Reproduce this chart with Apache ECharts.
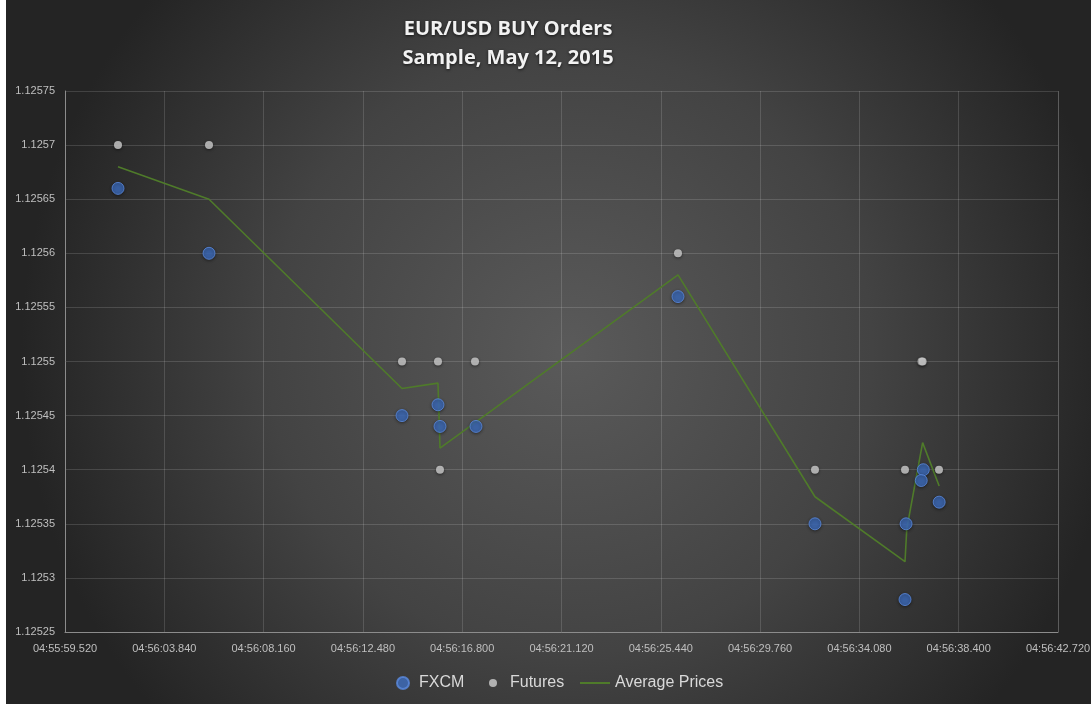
<!DOCTYPE html>
<html>
<head>
<meta charset="utf-8">
<script src="https://cdn.jsdelivr.net/npm/echarts@6/dist/echarts.min.js"></script>
<style>
  html, body { margin: 0; padding: 0; background: #ffffff; }
  #chart { position: absolute; left: 6px; top: 0; width: 1085px; height: 704px; }
</style>
</head>
<body>
<div id="chart"></div>
<script>
// EUR/USD buy orders, 12 May 2015: [time of fill, price]
const fxcm = [
  ['04:56:01.826', 1.12566],
  ['04:56:05.785', 1.12560],
  ['04:56:14.181', 1.12545],
  ['04:56:15.747', 1.12546],
  ['04:56:15.834', 1.12544],
  ['04:56:17.400', 1.12544],
  ['04:56:26.188', 1.12556],
  ['04:56:32.148', 1.12535],
  ['04:56:36.110', 1.12535],
  ['04:56:36.064', 1.12528],
  ['04:56:36.860', 1.12540],
  ['04:56:36.770', 1.12539],
  ['04:56:37.550', 1.12537]
];

const futures = [
  ['04:56:01.826', 1.12570],
  ['04:56:05.785', 1.12570],
  ['04:56:14.181', 1.12550],
  ['04:56:15.747', 1.12550],
  ['04:56:15.834', 1.12540],
  ['04:56:17.357', 1.12550],
  ['04:56:26.188', 1.12560],
  ['04:56:32.148', 1.12540],
  ['04:56:36.064', 1.12540],
  ['04:56:36.780', 1.12550],
  ['04:56:36.830', 1.12550],
  ['04:56:37.543', 1.12540]
];

const averagePrices = [
  ['04:56:01.826', 1.125680],
  ['04:56:05.785', 1.125650],
  ['04:56:14.181', 1.125475],
  ['04:56:15.747', 1.125480],
  ['04:56:15.834', 1.125420],
  ['04:56:26.188', 1.125580],
  ['04:56:32.148', 1.125375],
  ['04:56:36.064', 1.125315],
  ['04:56:36.140', 1.125345],
  ['04:56:36.830', 1.125425],
  ['04:56:37.550', 1.125385]
];

const xTickLabels = [
  '04:55:59.520', '04:56:03.840', '04:56:08.160', '04:56:12.480', '04:56:16.800',
  '04:56:21.120', '04:56:25.440', '04:56:29.760', '04:56:34.080', '04:56:38.400',
  '04:56:42.720'
];

const yMin = 1.12525, yMax = 1.12575, yStep = 0.00005;

// x values are seconds elapsed since the first tick label
function toSeconds(str) {
  const p = str.split(':');
  return (+p[0]) * 3600 + (+p[1]) * 60 + parseFloat(p[2]);
}
const t0 = toSeconds(xTickLabels[0]);
const xStep = toSeconds(xTickLabels[1]) - t0;
const xSpan = toSeconds(xTickLabels[xTickLabels.length - 1]) - t0;
const toPoints = arr => arr.map(d => [toSeconds(d[0]) - t0, d[1]]);

const labelFont = '"Liberation Sans", Arial, sans-serif';
const legendText = pad => ({
  color: '#d9d9d9', fontFamily: labelFont, fontSize: 16, lineHeight: 18,
  padding: [0, 0, 0, pad]
});

const chart = echarts.init(document.getElementById('chart'));
chart.setOption({
  animation: false,
  backgroundColor: {
    type: 'radial', x: 0.52, y: 0.5, r: 0.78,
    colorStops: [
      { offset: 0, color: '#5a5a5a' },
      { offset: 0.55, color: '#434343' },
      { offset: 1, color: '#242424' }
    ]
  },
  title: {
    text: 'EUR/USD BUY Orders\nSample, May 12, 2015',
    left: 497,
    top: 10,
    textAlign: 'center',
    textStyle: {
      color: '#f2f2f2',
      fontFamily: '"Open Sans", "Noto Sans", sans-serif',
      fontWeight: 'bold',
      fontSize: 20,
      lineHeight: 29,
      textShadowColor: 'rgba(0,0,0,0.7)',
      textShadowBlur: 3,
      textShadowOffsetY: 1
    }
  },
  grid: { left: 59, right: 33, top: 91, bottom: 72, outerBoundsMode: 'none' },
  xAxis: {
    type: 'value',
    min: 0,
    max: xSpan,
    interval: xStep,
    axisLine: { show: true, lineStyle: { color: '#8c8c8c', width: 1 } },
    axisTick: { show: false },
    splitLine: { show: true, lineStyle: { color: 'rgba(255,255,255,0.14)', width: 1 } },
    axisLabel: {
      color: '#bfbfbf',
      fontFamily: labelFont,
      fontSize: 11,
      margin: 11,
      showMaxLabel: true,
      showMinLabel: true,
      hideOverlap: false,
      formatter: v => xTickLabels[Math.round(v / xStep)] || ''
    }
  },
  yAxis: {
    type: 'value',
    min: yMin,
    max: yMax,
    interval: yStep,
    axisLine: { show: true, lineStyle: { color: '#8c8c8c', width: 1 } },
    axisTick: { show: false },
    splitLine: { show: true, lineStyle: { color: 'rgba(255,255,255,0.14)', width: 1 } },
    axisLabel: {
      color: '#bfbfbf',
      fontFamily: labelFont,
      fontSize: 11,
      margin: 10,
      formatter: v => String(+v.toFixed(5))
    }
  },
  legend: [
    {
      left: 390, top: 674, padding: 0, itemWidth: 12, itemHeight: 12, itemGap: 0,
      textStyle: legendText(5), data: [{ name: 'FXCM', icon: 'circle' }]
    },
    {
      left: 483, top: 674, padding: 0, itemWidth: 8, itemHeight: 8, itemGap: 0,
      textStyle: legendText(8), data: [{ name: 'Futures', icon: 'circle' }]
    },
    {
      left: 574, top: 674, padding: 0, itemWidth: 30, itemHeight: 2, itemGap: 0,
      textStyle: legendText(0), data: [{ name: 'Average Prices', icon: 'rect' }]
    }
  ],
  series: [
    {
      name: 'Average Prices',
      type: 'line',
      data: toPoints(averagePrices),
      symbol: 'none',
      lineStyle: { color: '#4f7b2a', width: 1.6 },
      itemStyle: { color: '#4f7b2a' },
      z: 2
    },
    {
      name: 'Futures',
      type: 'scatter',
      data: toPoints(futures),
      symbolSize: 8,
      itemStyle: {
        color: '#cfcfcf',
        shadowColor: 'rgba(0,0,0,0.6)',
        shadowBlur: 3,
        shadowOffsetY: 1
      },
      z: 3
    },
    {
      name: 'FXCM',
      type: 'scatter',
      data: toPoints(fxcm),
      symbolSize: 12,
      itemStyle: {
        color: '#3f6ebf',
        borderColor: '#5b8be0',
        borderWidth: 1,
        shadowColor: 'rgba(0,0,0,0.5)',
        shadowBlur: 3,
        shadowOffsetY: 1
      },
      z: 4
    }
  ]
});
</script>
</body>
</html>
